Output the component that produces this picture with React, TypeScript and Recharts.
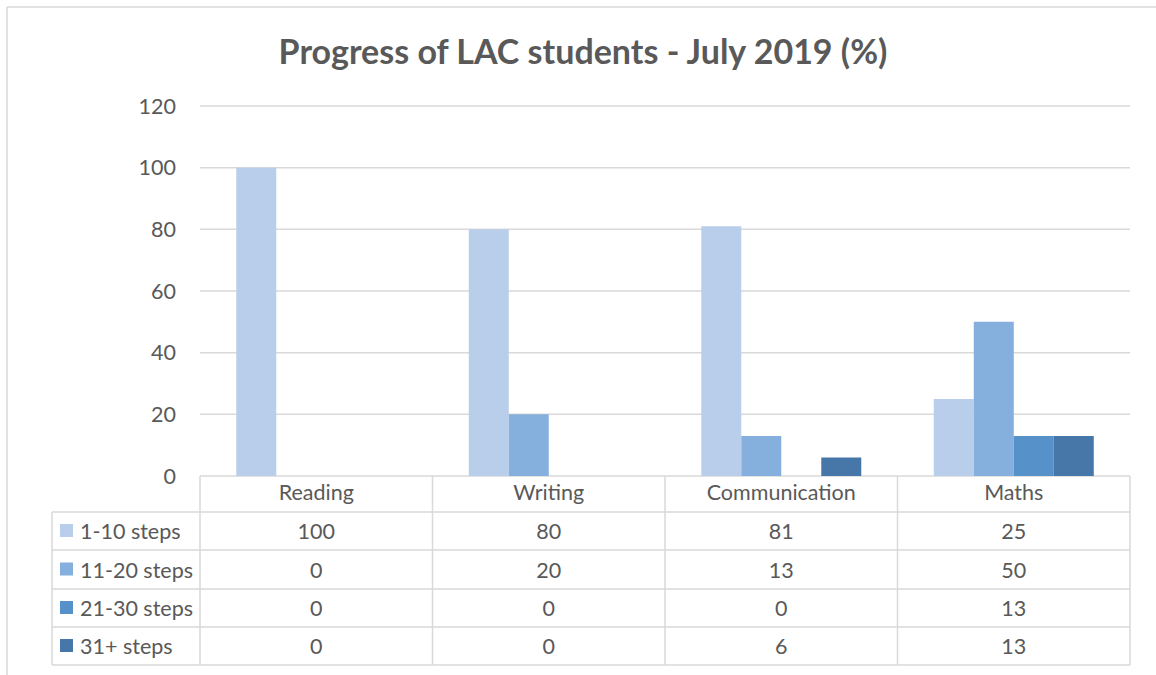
import React from "react";
import { BarChart, Bar, XAxis, YAxis, CartesianGrid } from "recharts";

const categories = ["Reading", "Writing", "Communication", "Maths"];
const seriesNames = ["1-10 steps", "11-20 steps", "21-30 steps", "31+ steps"];
const steps1to10 = [100, 80, 81, 25];
const steps11to20 = [0, 20, 13, 50];
const steps21to30 = [0, 0, 0, 13];
const steps31plus = [0, 0, 6, 13];
const yTicks = [0, 20, 40, 60, 80, 100, 120];
const colors = ["#B9CEEA", "#85AFDD", "#5691C9", "#4677A8"];

const seriesValues = [steps1to10, steps11to20, steps21to30, steps31plus];
const keys = ["s1", "s2", "s3", "s4"];

const data = categories.map((name, i) => ({
  name,
  s1: steps1to10[i],
  s2: steps11to20[i],
  s3: steps21to30[i],
  s4: steps31plus[i],
}));

const W = 1156;
const H = 675;
const FONT = "Lato, 'Open Sans', sans-serif";
const FS = 21.5;
const TEXT = "#595959";
const LINE = "#d9d9d9";

// plot area / data table layout
const plotLeft = 200;
const plotRight = 1130;
const plotBottom = 476;
const tableLeft = 52;
const rowLines = [512, 550, 589, 627, 665];

function DataTable() {
  const colW = (plotRight - plotLeft) / categories.length;
  const cols = categories.map((_, i) => plotLeft + i * colW);
  return (
    <svg
      width={W}
      height={H}
      style={{ position: "absolute", left: 0, top: 0, pointerEvents: "none" }}
    >
      {/* chart border */}
      <line x1={7} y1={7} x2={W} y2={7} stroke={LINE} strokeWidth={1.5} />
      <line x1={7} y1={7} x2={7} y2={H} stroke={LINE} strokeWidth={1.5} />
      <text
        x={583}
        y={64}
        textAnchor="middle"
        fontFamily={FONT}
        fontWeight="bold"
        fontSize={34}
        fill={TEXT}
      >
        Progress of LAC students - July 2019 (%)
      </text>
      {rowLines.map((y) => (
        <line key={y} x1={tableLeft} x2={plotRight} y1={y} y2={y} stroke={LINE} strokeWidth={1.5} />
      ))}
      <line x1={tableLeft} x2={tableLeft} y1={rowLines[0]} y2={rowLines[4]} stroke={LINE} strokeWidth={1.5} />
      {[...cols, plotRight].map((x) => (
        <line key={x} x1={x} x2={x} y1={plotBottom} y2={rowLines[4]} stroke={LINE} strokeWidth={1.5} />
      ))}
      {seriesNames.map((s, r) => {
        const yc = (rowLines[r] + rowLines[r + 1]) / 2;
        return (
          <g key={s}>
            <rect x={60} y={yc - 7} width={13} height={13} fill={colors[r]} />
            <text x={80} y={yc + 8} fontFamily={FONT} fontSize={FS} fill={TEXT}>
              {s}
            </text>
            {seriesValues[r].map((v, c) => (
              <text
                key={c}
                x={cols[c] + colW / 2}
                y={yc + 8}
                textAnchor="middle"
                fontFamily={FONT}
                fontSize={FS}
                fill={TEXT}
              >
                {v}
              </text>
            ))}
          </g>
        );
      })}
    </svg>
  );
}

export default function App() {
  return (
    <div style={{ position: "absolute", left: 0, top: 0, width: W, height: H, background: "#fff" }}>
      <BarChart
        width={W}
        height={H}
        data={data}
        margin={{ top: 106, right: W - plotRight, left: 0, bottom: H - plotBottom - 36 }}
        barCategoryGap="15.6%"
        barGap={0}
      >
        <CartesianGrid vertical={false} stroke={LINE} strokeWidth={1.5} />
        <XAxis
          dataKey="name"
          height={36}
          axisLine={false}
          tickLine={false}
          tickSize={0}
          tickMargin={9}
          tick={{ fontFamily: FONT, fontSize: FS, fill: TEXT }}
        />
        <YAxis
          width={plotLeft}
          domain={[0, 120]}
          ticks={yTicks}
          axisLine={false}
          tickLine={false}
          tickSize={0}
          tickMargin={24}
          tick={{ fontFamily: FONT, fontSize: FS, fill: TEXT }}
        />
        {keys.map((k, i) => (
          <Bar key={k} dataKey={k} name={seriesNames[i]} fill={colors[i]} isAnimationActive={false} />
        ))}
      </BarChart>
      <DataTable />
    </div>
  );
}
